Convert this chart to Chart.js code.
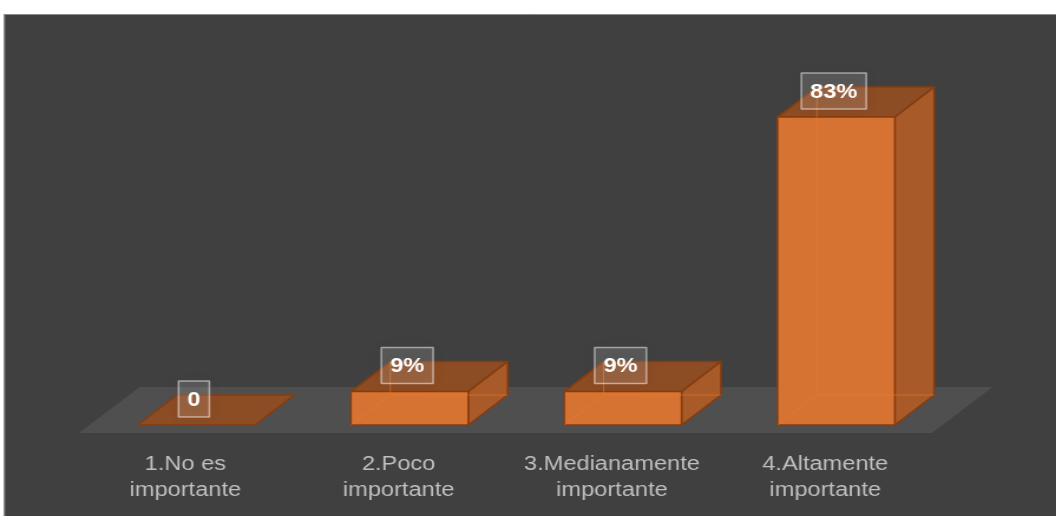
<!DOCTYPE html>
<html>
<head>
<meta charset="utf-8">
<script src="https://cdn.jsdelivr.net/npm/chart.js@4/dist/chart.umd.min.js"></script>
<style>
  html, body { margin: 0; padding: 0; background: #ffffff; overflow: hidden; }
  #outer { position: relative; width: 1056px; height: 516px; overflow: hidden; background: #ffffff; }
  #wrap { position: absolute; left: 0; top: 0; width: 895px; height: 516px; transform: scaleX(1.18); transform-origin: 0 0; }
  canvas { display: block; }
</style>
</head>
<body>
<div id="outer"><div id="wrap"><canvas id="c" width="895" height="516"></canvas></div></div>
<script>
const categories = [
  ['1.No es', 'importante'],
  ['2.Poco', 'importante'],
  ['3.Medianamente', 'importante'],
  ['4.Altamente', 'importante']
];
const values = [0, 9, 9, 83];
const dataLabels = ['0', '9%', '9%', '83%'];

const COLORS = {
  page: '#ffffff',
  panel: '#404040',
  panelBorder: '#8c8c8c',
  floor: '#504f50',
  front: 'rgb(214,115,50)',
  top: 'rgb(140,76,36)',
  side: 'rgb(168,90,40)',
  edge: 'rgb(135,60,15)',
  hidden: 'rgba(235,125,45,0.55)',
  tick: '#bfbfbf'
};

const threeD = {
  id: 'threeD',
  beforeDraw(chart) {
    const ctx = chart.ctx;
    ctx.save();
    ctx.fillStyle = COLORS.page;
    ctx.fillRect(0, 0, chart.width, chart.height);
    ctx.fillStyle = COLORS.panel;
    ctx.fillRect(3.4, 14, chart.width - 3.4, chart.height - 14);
    ctx.strokeStyle = COLORS.panelBorder;
    ctx.lineWidth = 1;
    ctx.beginPath();
    ctx.moveTo(3.8, chart.height);
    ctx.lineTo(3.8, 14.5);
    ctx.lineTo(chart.width, 14.5);
    ctx.stroke();
    ctx.restore();
  },
  beforeDatasetsDraw(chart) {
    const ctx = chart.ctx;
    const a = chart.chartArea;
    const base = chart.scales.y.getPixelForValue(0);
    const fl = a.left - 9.3, fr = a.right - 9.3, fy = base + 8;
    const ddx = 51.7, ddy = -46;
    ctx.save();
    ctx.fillStyle = COLORS.floor;
    ctx.beginPath();
    ctx.moveTo(fl, fy);
    ctx.lineTo(fr, fy);
    ctx.lineTo(fr + ddx, fy + ddy);
    ctx.lineTo(fl + ddx, fy + ddy);
    ctx.closePath();
    ctx.fill();
    ctx.restore();
  },
  afterDatasetsDraw(chart) {
    const ctx = chart.ctx;
    const meta = chart.getDatasetMeta(0);
    ctx.save();
    ctx.lineJoin = 'round';
    meta.data.forEach((el, i) => {
      const w = el.width;
      const L = el.x - w / 2, R = el.x + w / 2;
      const T = el.y, B = el.base;
      const dx = w * 0.335, dy = -30;
      ctx.lineWidth = 1.5;
      ctx.strokeStyle = COLORS.edge;
      ctx.fillStyle = COLORS.top;
      ctx.beginPath();
      ctx.moveTo(L, T); ctx.lineTo(R, T); ctx.lineTo(R + dx, T + dy); ctx.lineTo(L + dx, T + dy); ctx.closePath();
      ctx.fill(); ctx.stroke();
      if (B - T > 0.5) {
        ctx.fillStyle = COLORS.side;
        ctx.beginPath();
        ctx.moveTo(R, T); ctx.lineTo(R + dx, T + dy); ctx.lineTo(R + dx, B + dy); ctx.lineTo(R, B); ctx.closePath();
        ctx.fill(); ctx.stroke();
        ctx.fillStyle = COLORS.front;
        ctx.beginPath();
        ctx.rect(L, T, w, B - T);
        ctx.fill(); ctx.stroke();
        ctx.strokeStyle = COLORS.hidden;
        ctx.lineWidth = 1;
        ctx.beginPath();
        ctx.moveTo(L, B); ctx.lineTo(L + dx, B + dy);
        ctx.lineTo(R + dx, B + dy);
        ctx.moveTo(L + dx, B + dy); ctx.lineTo(L + dx, T + dy);
        ctx.stroke();
      }
    });
    ctx.font = 'bold 20px "Liberation Sans", Arial, sans-serif';
    ctx.textAlign = 'center';
    ctx.textBaseline = 'middle';
    meta.data.forEach((el, i) => {
      const txt = dataLabels[i];
      const tw = ctx.measureText(txt).width;
      const bw = tw + 15, bh = 36;
      const cx = el.x - 2, cy = el.y - 26;
      ctx.save();
      ctx.shadowColor = 'rgba(0,0,0,0.35)';
      ctx.shadowBlur = 14;
      ctx.fillStyle = 'rgba(255,255,255,0.13)';
      ctx.fillRect(cx - bw / 2, cy - bh / 2, bw, bh);
      ctx.restore();
      ctx.strokeStyle = 'rgba(255,255,255,0.5)';
      ctx.lineWidth = 1.5;
      ctx.strokeRect(cx - bw / 2, cy - bh / 2, bw, bh);
      ctx.fillStyle = '#ffffff';
      ctx.fillText(txt, cx, cy + 1);
    });
    ctx.restore();
  }
};

new Chart(document.getElementById('c'), {
  type: 'bar',
  data: {
    labels: categories,
    datasets: [{
      data: values,
      backgroundColor: 'rgba(0,0,0,0)',
      borderWidth: 0,
      categoryPercentage: 1,
      barPercentage: 0.55
    }]
  },
  options: {
    responsive: false,
    maintainAspectRatio: false,
    devicePixelRatio: 1,
    animation: false,
    events: [],
    layout: { padding: { left: 76, right: 96, top: 54, bottom: -13 } },
    plugins: { legend: { display: false }, tooltip: { enabled: false } },
    scales: {
      x: {
        grid: { display: false, drawTicks: false },
        border: { display: false },
        ticks: {
          color: COLORS.tick,
          font: { family: '"Liberation Sans", Arial, sans-serif', size: 20, lineHeight: 1.3 },
          padding: 26,
          labelOffset: -9.3,
          maxRotation: 0,
          autoSkip: false
        }
      },
      y: {
        display: false,
        min: 0,
        max: 100
      }
    }
  },
  plugins: [threeD]
});
</script>
</body>
</html>
